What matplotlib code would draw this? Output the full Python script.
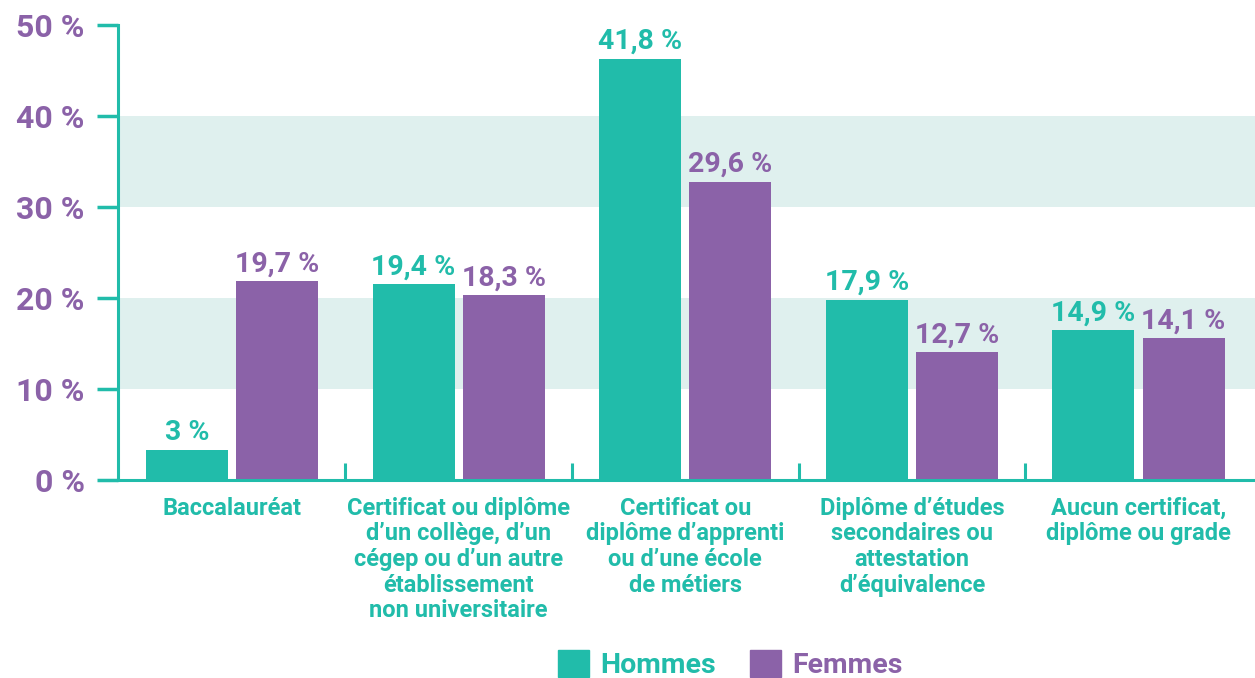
import matplotlib
matplotlib.use("Agg")
import matplotlib.pyplot as plt
import numpy as np
from matplotlib.patches import Patch

categories = [
    "Baccalauréat",
    "Certificat ou diplôme\nd’un collège, d’un\ncégep ou d’un autre\nétablissement\nnon universitaire",
    "Certificat ou\ndiplôme d’apprenti\nou d’une école\nde métiers",
    "Diplôme d’études\nsecondaires ou\nattestation\nd’équivalence",
    "Aucun certificat,\ndiplôme ou grade",
]
hommes = [3.0, 19.4, 41.8, 17.9, 14.9]
femmes = [19.7, 18.3, 29.6, 12.7, 14.1]
hommes_labels = ["3 %", "19,4 %", "41,8 %", "17,9 %", "14,9 %"]
femmes_labels = ["19,7 %", "18,3 %", "29,6 %", "12,7 %", "14,1 %"]
tick_values = [0, 10, 20, 30, 40, 50]
tick_labels = ["0 %", "10 %", "20 %", "30 %", "40 %", "50 %"]
series_names = ["Hommes", "Femmes"]

TEAL = "#21BCAA"
PURPLE = "#8B62A8"
BAND = "#DFF0EE"
FONT = ["Roboto", "DejaVu Sans"]

# the source drew the bars slightly taller than the axis scale
SCALE = 1.108

fig = plt.figure(figsize=(12.55, 6.78), dpi=100)
ax = fig.add_axes([118 / 1255, 1 - 480 / 678, 1 - 118 / 1255, (480 - 25) / 678])

x = np.arange(len(categories))
w = 0.362
off = 0.199
ax.bar(x - off, hommes, width=w, color=TEAL, zorder=3)
ax.bar(x + off, femmes, width=w, color=PURPLE, zorder=3)

ymax = tick_values[-1] / SCALE
ax.set_ylim(0, ymax)
ax.set_xlim(-0.503, len(categories) - 1 + 0.514)

# bands
for lo, hi in [(10, 20), (30, 40)]:
    ax.axhspan(lo / SCALE, hi / SCALE, color=BAND, zorder=0, lw=0)

# value labels
for i in range(len(categories)):
    ax.annotate(hommes_labels[i], (x[i] - off, hommes[i]), xytext=(0, 2.5),
                textcoords="offset points", ha="center", va="bottom",
                color=TEAL, fontsize=20.5, fontweight="bold", family=FONT, zorder=4)
    ax.annotate(femmes_labels[i], (x[i] + off, femmes[i]), xytext=(0, 2.5),
                textcoords="offset points", ha="center", va="bottom",
                color=PURPLE, fontsize=20.5, fontweight="bold", family=FONT, zorder=4)

# separators between groups
sep_x = x[:-1] + 0.5
ax.vlines(sep_x, 0, 17 / 455 * ymax, color=TEAL, lw=2.2, zorder=4)

# spines
for s in ["top", "right"]:
    ax.spines[s].set_visible(False)
for s in ["left", "bottom"]:
    ax.spines[s].set_color(TEAL)
    ax.spines[s].set_linewidth(2.2)
    ax.spines[s].set_zorder(5)

ax.set_yticks([t / SCALE for t in tick_values])
ax.set_yticklabels(tick_labels)
ax.tick_params(axis="y", length=15, width=2.5, color=TEAL, pad=9,
               labelcolor=PURPLE, labelsize=23)
for lab in ax.get_yticklabels():
    lab.set_fontweight("bold")
    lab.set_family(FONT)

ax.set_xticks(x)
ax.set_xticklabels(categories)
ax.tick_params(axis="x", length=0, pad=12, labelcolor=TEAL, labelsize=17)
for lab in ax.get_xticklabels():
    lab.set_fontweight("bold")
    lab.set_family(FONT)
    lab.set_linespacing(1.15)
    lab.set_ha("center")
    lab.set_multialignment("center")

# legend
handles = [Patch(color=TEAL), Patch(color=PURPLE)]
leg = fig.legend(handles, series_names, loc="lower center", bbox_to_anchor=(0.582, -0.04),
                 ncol=2, frameon=False, handlelength=1.08, handleheight=1.08,
                 handletextpad=0.4, columnspacing=1.2,
                 prop={"family": FONT, "weight": "bold", "size": 20.5})
for t, c in zip(leg.get_texts(), [TEAL, PURPLE]):
    t.set_color(c)

fig.savefig("out.png", dpi=100)
